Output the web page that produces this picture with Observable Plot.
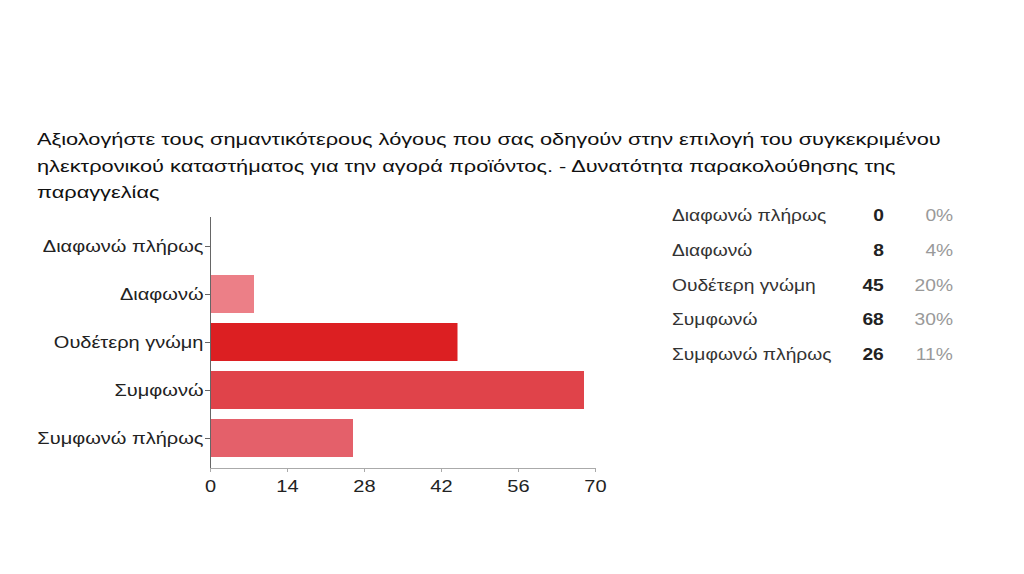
<!DOCTYPE html>
<html>
<head>
<meta charset="utf-8">
<script src="https://cdn.jsdelivr.net/npm/d3@7"></script>
<script src="https://cdn.jsdelivr.net/npm/@observablehq/plot@0.6"></script>
<style>
  html, body { margin: 0; padding: 0; background: #fff; }
  body { width: 1024px; height: 574px; position: relative; overflow: hidden; font-family: "Liberation Sans", Arial, sans-serif; }
  #title { position: absolute; left: 37px; top: 127px; font-size: 16px; line-height: 26.5px; color: #111; white-space: nowrap; transform: scaleX(1.36); transform-origin: left top; }
  #chart { position: absolute; left: 0; top: 0; }
  #table { position: absolute; left: 672px; top: 198px; font-size: 16px; color: #333; }
  #table .row { position: absolute; height: 35px; line-height: 35px; white-space: nowrap; width: 281px; }
  #table .lab { position: absolute; left: 0; transform: scaleX(1.2); transform-origin: left center; }
  #table .cnt { position: absolute; right: 69px; font-weight: bold; color: #222; transform: scaleX(1.2); transform-origin: right center; }
  #table .pct { position: absolute; right: 0; color: #999; transform: scaleX(1.2); transform-origin: right center; }
</style>
</head>
<body>
<div id="title"></div>
<div id="chart"></div>
<div id="table"></div>
<script>
const titleLines = [
  "Αξιολογήστε τους σημαντικότερους λόγους που σας οδηγούν στην επιλογή του συγκεκριμένου",
  "ηλεκτρονικού καταστήματος για την αγορά προϊόντος. - Δυνατότητα παρακολούθησης της",
  "παραγγελίας"
];
const categories = ["Διαφωνώ πλήρως", "Διαφωνώ", "Ουδέτερη γνώμη", "Συμφωνώ", "Συμφωνώ πλήρως"];
const counts = [0, 8, 45, 68, 26];
const percents = ["0%", "4%", "20%", "30%", "11%"];
const barColors = ["#ec7f87", "#ec7f87", "#dc1f22", "#e0434a", "#e4606a"];
const xTicks = [0, 14, 28, 42, 56, 70];

document.getElementById("title").innerHTML = titleLines.join("<br>");

const data = categories.map((c, i) => ({category: c, count: counts[i]}));

const chart = Plot.plot({
  width: 1024,
  height: 574,
  marginLeft: 210,
  marginRight: 429,
  marginTop: 217,
  marginBottom: 106,
  style: {fontFamily: "Liberation Sans, Arial, sans-serif", fontSize: "16px", color: "#222", background: "transparent"},
  x: {domain: [0, 70], ticks: xTicks, label: null},
  y: {domain: categories, label: null, padding: 0.2},
  color: {domain: categories, range: barColors},
  marks: [
    Plot.barX(data, {y: "category", x: "count", fill: "category"}),
    Plot.frame({anchor: "bottom", stroke: "#aaa"}),
    Plot.axisX({ticks: xTicks, tickSize: 4, tickPadding: 8, stroke: "#aaa", color: "#222", fontSize: 16}),
    Plot.axisY({tickSize: 5, tickPadding: 2, stroke: "#666", fontSize: 16}),
    Plot.ruleX([0], {stroke: "#666"})
  ]
});
// horizontally widen tick label glyphs to match the reference's stretched type
d3.select(chart).selectAll("g[aria-label='y-axis tick label'] text, g[aria-label='x-axis tick label'] text")
  .attr("transform", function() {
    const t = this.getAttribute("transform") || "";
    return t + " scale(1.25,1)";
  });
document.getElementById("chart").appendChild(chart);

const table = document.getElementById("table");
categories.forEach((c, i) => {
  const row = document.createElement("div");
  row.className = "row";
  row.style.top = (i * 34.8) + "px";
  row.innerHTML = `<span class="lab">${c}</span><span class="cnt">${counts[i]}</span><span class="pct">${percents[i]}</span>`;
  table.appendChild(row);
});
</script>
</body>
</html>
